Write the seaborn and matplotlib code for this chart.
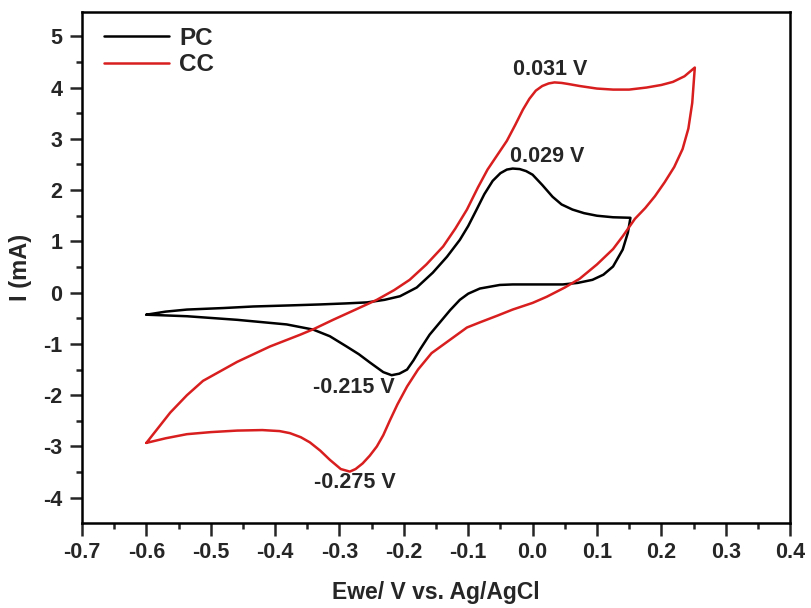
import numpy as np
import pandas as pd
import matplotlib
matplotlib.use("Agg")
import matplotlib.pyplot as plt
from matplotlib.ticker import MultipleLocator
import seaborn as sns

# ---- data ----
pc_x = [-0.600, -0.570, -0.537, -0.480, -0.434, -0.380, -0.330, -0.290, -0.257, -0.230,
        -0.206, -0.180, -0.155, -0.133, -0.113, -0.100, -0.087, -0.075, -0.062, -0.050,
        -0.040, -0.031, -0.020, -0.010, 0.000, 0.015, 0.031, 0.045, 0.062, 0.080,
        0.100, 0.125, 0.152,
        0.148, 0.140, 0.125, 0.110, 0.093, 0.070, 0.047, 0.000, -0.031, -0.051,
        -0.082, -0.100, -0.113, -0.128, -0.144, -0.160, -0.175, -0.185, -0.195, -0.207,
        -0.219, -0.232, -0.253, -0.270, -0.289, -0.315, -0.341, -0.382, -0.459, -0.537,
        -0.600]
pc_y = [-0.43, -0.37, -0.33, -0.30, -0.27, -0.25, -0.23, -0.21, -0.19, -0.14,
        -0.07, 0.10, 0.39, 0.70, 1.03, 1.30, 1.62, 1.92, 2.18, 2.33,
        2.40, 2.42, 2.41, 2.37, 2.30, 2.10, 1.87, 1.72, 1.62, 1.55,
        1.50, 1.47, 1.46,
        1.17, 0.84, 0.51, 0.35, 0.25, 0.19, 0.16, 0.16, 0.16, 0.15,
        0.08, -0.02, -0.14, -0.34, -0.58, -0.82, -1.11, -1.32, -1.50, -1.58,
        -1.61, -1.55, -1.36, -1.20, -1.05, -0.85, -0.72, -0.62, -0.53, -0.46,
        -0.43]

cc_x = [-0.600, -0.563, -0.537, -0.512, -0.459, -0.408, -0.361, -0.340, -0.310, -0.275,
        -0.242, -0.215, -0.191, -0.165, -0.139, -0.120, -0.102, -0.085, -0.070, -0.055,
        -0.040, -0.027, -0.015, -0.005, 0.005, 0.015, 0.025, 0.034, 0.045, 0.055,
        0.073, 0.100, 0.125, 0.150, 0.177, 0.200, 0.218, 0.236, 0.252,
        0.248, 0.242, 0.233, 0.220, 0.205, 0.190, 0.175, 0.159, 0.140, 0.125,
        0.100, 0.073, 0.050, 0.022, 0.000, -0.031, -0.055, -0.082, -0.102, -0.113,
        -0.135, -0.157, -0.178, -0.195, -0.210, -0.222, -0.232, -0.242, -0.253, -0.264,
        -0.275, -0.284, -0.298, -0.315, -0.330, -0.346, -0.360, -0.377, -0.393, -0.420,
        -0.459, -0.500, -0.537, -0.570, -0.600]
cc_y = [-2.93, -2.34, -2.00, -1.72, -1.35, -1.05, -0.82, -0.71, -0.53, -0.33,
        -0.14, 0.05, 0.25, 0.55, 0.90, 1.25, 1.62, 2.05, 2.40, 2.68,
        2.96, 3.27, 3.57, 3.78, 3.94, 4.03, 4.08, 4.10, 4.09, 4.07,
        4.03, 3.98, 3.96, 3.96, 4.00, 4.05, 4.11, 4.22, 4.39,
        3.70, 3.20, 2.80, 2.45, 2.15, 1.88, 1.65, 1.44, 1.10, 0.85,
        0.55, 0.27, 0.10, -0.08, -0.20, -0.33, -0.45, -0.58, -0.68, -0.78,
        -0.98, -1.18, -1.50, -1.83, -2.18, -2.50, -2.78, -3.00, -3.18, -3.33,
        -3.44, -3.49, -3.44, -3.26, -3.08, -2.92, -2.82, -2.74, -2.70, -2.68,
        -2.69, -2.72, -2.76, -2.84, -2.93]

series_names = ["PC", "CC"]
series_colors = ["#000000", "#d81e1e"]

peak_labels = ["0.031 V", "0.029 V", "-0.215 V", "-0.275 V"]
peak_label_x = [0.028, 0.022, -0.278, -0.276]
peak_label_y = [4.35, 2.65, -1.85, -3.70]

x_ticks = [-0.7, -0.6, -0.5, -0.4, -0.3, -0.2, -0.1, 0.0, 0.1, 0.2, 0.3, 0.4]
y_ticks = [-4, -3, -2, -1, 0, 1, 2, 3, 4, 5]

# ---- table ----
df = pd.concat([
    pd.DataFrame({"E": pc_x, "I": pc_y, "sample": "PC"}),
    pd.DataFrame({"E": cc_x, "I": cc_y, "sample": "CC"}),
], ignore_index=True)

sns.set_theme(style="ticks")
plt.rcParams["font.family"] = ["Liberation Sans", "DejaVu Sans"]
plt.rcParams["font.weight"] = "bold"

fig = plt.figure(figsize=(8.12, 6.08), dpi=100)
ax = fig.add_axes([0.101, 0.140, 0.872, 0.840])

sns.lineplot(data=df, x="E", y="I", hue="sample", hue_order=series_names,
             palette=dict(zip(series_names, series_colors)), sort=False,
             estimator=None, linewidth=1.8, ax=ax)
for ln in ax.get_lines():
    ln.set_solid_joinstyle("round")
    ln.set_solid_capstyle("round")

ax.set_xlim(-0.7, 0.4)
ax.set_ylim(-4.49, 5.47)
ax.set_xticks(x_ticks)
ax.set_yticks(y_ticks)
ax.set_xticklabels([f"{v:.1f}" for v in x_ticks], fontsize=15.5, fontweight="bold")
ax.set_yticklabels([f"{v:d}" for v in y_ticks], fontsize=15.5, fontweight="bold")
ax.xaxis.set_minor_locator(MultipleLocator(0.05))
ax.yaxis.set_minor_locator(MultipleLocator(0.5))
ax.tick_params(which="major", direction="out", length=9, width=1.8, pad=5)
ax.tick_params(which="minor", direction="out", length=4.5, width=1.8)
for sp in ax.spines.values():
    sp.set_linewidth(1.8)
    sp.set_color("black")

ax.set_xlabel("Ewe/ V vs. Ag/AgCl", fontsize=16.5, fontweight="bold", labelpad=13)
ax.set_ylabel("I (mA)", fontsize=17, fontweight="bold", labelpad=8)

for t, x, y in zip(peak_labels, peak_label_x, peak_label_y):
    ax.text(x, y, t, fontsize=15.5, fontweight="bold", ha="center", va="center")

leg = ax.legend(loc="upper left", frameon=False, fontsize=17.5, handlelength=2.7,
                labelspacing=0.15, borderaxespad=0.2, handletextpad=0.4,
                bbox_to_anchor=(0.01, 1.0))
for t in leg.get_texts():
    t.set_fontweight("bold")
for h in leg.get_lines():
    h.set_linewidth(1.8)

fig.savefig("out.png", dpi=100)
